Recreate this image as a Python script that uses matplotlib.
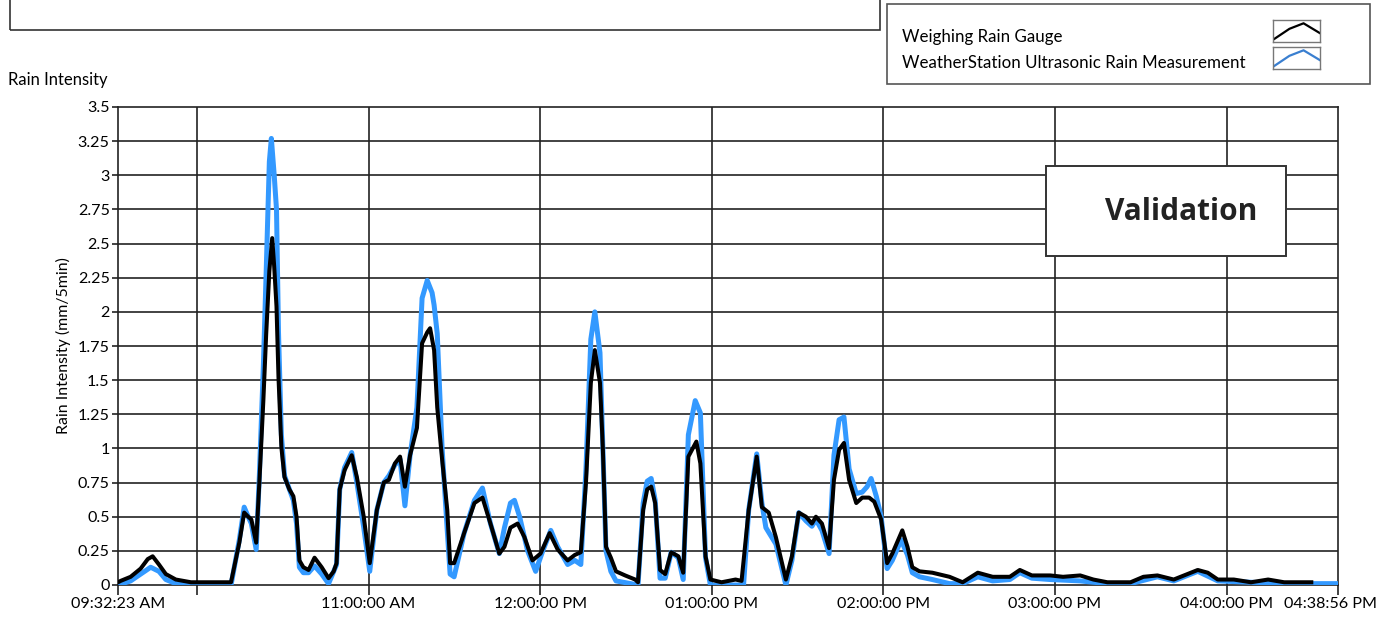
import matplotlib
matplotlib.use("Agg")
import matplotlib.pyplot as plt
from matplotlib.patches import Rectangle
from datetime import datetime, timedelta

plt.rcParams['font.family'] = ['Lato', 'DejaVu Sans']

# time axis: minutes after 09:00
start_min = 32 + 23 / 60      # 09:32:23 AM
end_min = 7 * 60 + 38 + 56 / 60  # 04:38:56 PM

# Weighing Rain Gauge (black)
gauge_t = [32.4, 33.3, 36.8, 40.3, 42.8, 44.5, 46.7, 49.1, 52.6, 57.9, 64.9, 71.9,
           74.8, 76.5, 77.9, 79.0, 80.7, 81.8, 83.2, 84.2, 85.3, 86.3, 87.0, 87.8,
           88.5, 89.5, 90.6, 92.3, 93.7, 94.8, 95.8, 97.2, 99.0, 101.1, 103.6, 106.0,
           107.8, 108.8, 109.9, 111.6, 114.1, 115.9, 118.3, 120.4, 122.9, 125.3, 127.1,
           129.2, 131.0, 132.7, 134.5, 136.9, 138.7, 140.5, 141.5, 142.9, 144.0, 145.7,
           147.5, 148.5, 149.9, 153.4, 157.0, 159.8, 162.6, 165.7, 167.5, 169.6, 172.1,
           174.5, 177.3, 180.1, 183.3, 186.1, 189.6, 192.1, 194.2, 196.0, 197.7, 199.1,
           200.9, 201.9, 203.0, 204.7, 206.5, 209.7, 213.2, 214.2, 216.0, 217.4, 218.8,
           220.2, 221.9, 223.7, 225.8, 228.3, 230.0, 231.8, 234.6, 236.0, 237.8, 239.5,
           243.4, 248.3, 250.4, 252.9, 255.7, 257.5, 259.9, 262.4, 265.9, 268.0, 270.4,
           272.9, 275.0, 276.4, 278.5, 281.0, 282.7, 284.5, 286.2, 288.0, 290.5, 292.6,
           295.0, 296.8, 299.2, 301.3, 303.1, 306.6, 308.4, 310.1, 312.6, 317.1, 323.1,
           327.7, 333.0, 338.2, 344.2, 347.7, 351.9, 358.3, 362.8, 368.8, 373.4, 378.3,
           386.4, 390.9, 395.8, 401.5, 409.9, 413.4, 416.9, 422.5, 428.5, 434.5, 440.1,
           449.6]
gauge_v = [0.02, 0.03, 0.06, 0.12, 0.19, 0.21, 0.15, 0.08, 0.04, 0.02, 0.02, 0.02,
           0.31, 0.53, 0.50, 0.48, 0.31, 0.75, 1.35, 1.84, 2.30, 2.54, 2.33, 2.04,
           1.52, 1.01, 0.79, 0.70, 0.65, 0.50, 0.18, 0.13, 0.11, 0.20, 0.13, 0.05,
           0.10, 0.16, 0.70, 0.84, 0.95, 0.79, 0.50, 0.16, 0.55, 0.75, 0.77,
           0.89, 0.94, 0.72, 0.95, 1.15, 1.77, 1.85, 1.88, 1.72, 1.30, 0.92,
           0.55, 0.16, 0.16, 0.38, 0.60, 0.64, 0.45, 0.23, 0.28, 0.42, 0.45,
           0.35, 0.18, 0.23, 0.38, 0.26, 0.18, 0.22, 0.24, 0.75, 1.48, 1.72,
           1.48, 1.00, 0.28, 0.20, 0.10, 0.07, 0.04, 0.02, 0.55, 0.70, 0.72,
           0.60, 0.11, 0.08, 0.24, 0.21, 0.09, 0.94, 1.05, 0.89, 0.21, 0.04,
           0.02, 0.04, 0.03, 0.55, 0.94, 0.57, 0.53, 0.35, 0.04, 0.21, 0.53,
           0.50, 0.45, 0.50, 0.45, 0.27, 0.77, 0.99, 1.04, 0.77, 0.60, 0.64,
           0.64, 0.61, 0.48, 0.16, 0.23, 0.40, 0.28, 0.13, 0.10, 0.09, 0.06,
           0.02, 0.09, 0.06, 0.06, 0.11, 0.07, 0.07, 0.06, 0.07, 0.04, 0.02,
           0.02, 0.06, 0.07, 0.04, 0.11, 0.09, 0.04, 0.04, 0.02, 0.04, 0.02,
           0.02]

# WeatherStation Ultrasonic Rain Measurement (blue)
ultra_t = [32.4, 36.8, 40.3, 43.8, 46.7, 49.1, 52.6, 57.9, 71.9, 74.8, 76.5, 77.9,
           79.0, 80.7, 81.8, 83.2, 84.2, 85.3, 86.0, 87.0, 87.8, 88.5, 89.5, 90.6,
           92.3, 93.7, 94.8, 95.8, 97.2, 99.0, 101.1, 103.6, 106.0, 108.8, 109.9,
           111.6, 114.1, 115.9, 118.3, 120.4, 122.9, 125.3, 127.1, 129.2, 131.0, 132.7,
           134.5, 136.9, 138.7, 140.5, 142.2, 142.9, 144.0, 145.7, 147.5, 148.5, 149.9,
           153.4, 157.0, 159.8, 162.6, 165.7, 167.5, 169.6, 171.0, 172.8, 175.6, 178.4,
           180.9, 183.7, 186.1, 189.6, 192.1, 194.2, 196.0, 197.7, 199.1, 200.9, 201.9,
           203.0, 204.7, 206.5, 214.2, 216.0, 217.4, 218.8, 220.2, 221.9, 223.7, 225.8,
           228.3, 230.0, 231.8, 234.2, 236.0, 237.8, 239.5, 251.1, 252.9, 255.7, 257.5,
           258.9, 262.4, 265.9, 268.0, 270.4, 272.9, 275.0, 276.4, 278.5, 281.0, 282.7,
           284.5, 286.2, 288.0, 290.5, 292.6, 294.3, 295.7, 297.5, 299.2, 301.3, 303.1,
           306.2, 308.4, 310.1, 312.6, 317.1, 323.1, 327.7, 333.0, 338.2, 344.2, 347.7,
           351.9, 358.3, 368.8, 378.3, 386.4, 395.8, 401.5, 409.9, 416.9, 428.5, 440.1,
           458.9]
ultra_v = [0.00, 0.03, 0.08, 0.13, 0.10, 0.04, 0.01, 0.00, 0.00, 0.33, 0.57, 0.50,
           0.45, 0.26, 0.80, 1.60, 2.30, 3.10, 3.27, 3.00, 2.75, 1.85, 1.10, 0.80,
           0.70, 0.62, 0.45, 0.13, 0.09, 0.09, 0.14, 0.08, 0.01, 0.15, 0.70,
           0.86, 0.97, 0.75, 0.42, 0.10, 0.55, 0.75, 0.80, 0.88, 0.92, 0.58,
           0.95, 1.30, 2.10, 2.23, 2.14, 2.05, 1.84, 1.00, 0.40, 0.08, 0.06,
           0.38, 0.62, 0.71, 0.45, 0.23, 0.42, 0.60, 0.62, 0.50, 0.25, 0.10,
           0.25, 0.40, 0.28, 0.15, 0.18, 0.15, 0.85, 1.80, 2.00, 1.70, 1.00,
           0.25, 0.10, 0.03, 0.00, 0.60, 0.76, 0.78, 0.62, 0.05, 0.05, 0.24,
           0.20, 0.04, 1.10, 1.35, 1.26, 0.20, 0.00, 0.00, 0.55, 0.96, 0.60,
           0.42, 0.30, 0.00, 0.18, 0.53, 0.47, 0.43, 0.48, 0.40, 0.23, 0.95,
           1.21, 1.23, 0.85, 0.67, 0.68, 0.72, 0.78, 0.65, 0.50, 0.12, 0.18,
           0.33, 0.22, 0.09, 0.06, 0.04, 0.01, 0.01, 0.06, 0.03, 0.04, 0.09,
           0.05, 0.04, 0.03, 0.01, 0.01, 0.06, 0.03, 0.10, 0.03, 0.02, 0.01,
           0.01]

hour_ticks = [60, 120, 180, 240, 300, 360, 420]
y_ticks = [i * 0.25 for i in range(15)]

W, H = 1380, 621
fig = plt.figure(figsize=(W / 100, H / 100), dpi=100)

def fx(px):
    return px / W

def fy(py):
    return 1 - py / H

ax = fig.add_axes([fx(118), fy(585), fx(1338) - fx(118), fy(107) - fy(585)])

ax.plot(ultra_t, ultra_v, color='#3399ff', lw=3.6, solid_joinstyle='round', zorder=3)
ax.plot(gauge_t, gauge_v, color='black', lw=2.9, solid_joinstyle='round', zorder=4)

ax.set_xlim(start_min, end_min)
ax.set_ylim(0, 3.5)

def clock(m):
    d = datetime(2000, 1, 1, 9, 0, 0) + timedelta(seconds=round(m * 60))
    return d.strftime('%I:%M:%S %p')

xt = [start_min] + hour_ticks + [end_min]
xl = [clock(start_min), ''] + [clock(m) for m in hour_ticks[1:]] + ['']
ax.set_xticks(xt)
ax.set_xticklabels(xl, fontsize=11.6)
ax.set_yticks(y_ticks)
ax.set_yticklabels(['%g' % v for v in y_ticks], fontsize=11.6)

# last label sits a little left of its tick so it stays inside the picture
ax.annotate(clock(end_min), xy=(end_min, 0), xycoords=('data', 'axes fraction'),
            xytext=(-8, -12.5), textcoords='offset pixels', ha='center', va='top',
            fontsize=11.6, annotation_clip=False)

for m in hour_ticks:
    ax.axvline(m, color='#222222', lw=1.2, zorder=1)
for v in y_ticks[1:-1]:
    ax.axhline(v, color='#222222', lw=1.2, zorder=1)

for s in ax.spines.values():
    s.set_color('#222222')
    s.set_linewidth(1.2)
ax.tick_params(axis='x', length=7, width=1.2, color='#222222', pad=2)
ax.tick_params(axis='y', length=4, width=1.2, color='#222222', pad=2)
ax.set_ylabel('Rain Intensity (mm/5min)', fontsize=11.4, labelpad=5)

fig.text(fx(8), fy(80), 'Rain Intensity', fontsize=12, va='center', ha='left')

# top box (cut off by the figure edge)
fig.patches.append(Rectangle((fx(10), fy(30)), fx(880) - fx(10), fy(-10) - fy(30),
                             transform=fig.transFigure, fill=False, ec='#333333', lw=1.2))

# legend box
fig.patches.append(Rectangle((fx(887), fy(84)), fx(1370) - fx(887), fy(4) - fy(84),
                             transform=fig.transFigure, fc='white', ec='#555555', lw=1.2,
                             zorder=5))
fig.text(fx(902), fy(37), 'Weighing Rain Gauge', fontsize=12.2, va='center', zorder=6)
fig.text(fx(902), fy(63), 'WeatherStation Ultrasonic Rain Measurement', fontsize=12.2,
         va='center', zorder=6)
for top, col in [(20, 'black'), (47, '#3a7fd0')]:
    lax = fig.add_axes([fx(1273), fy(top + 22), fx(1320) - fx(1273), fy(top) - fy(top + 22)])
    lax.set_zorder(7)
    lax.plot([0, 0.35, 0.65, 1], [0.1, 0.6, 0.85, 0.4], color=col, lw=1.6)
    lax.set_xlim(0, 1)
    lax.set_ylim(0, 1)
    lax.set_xticks([])
    lax.set_yticks([])
    for s in lax.spines.values():
        s.set_color('#777777')
        s.set_linewidth(1)

# Validation box
fig.patches.append(Rectangle((fx(1046), fy(256)), fx(1286) - fx(1046), fy(166) - fy(256),
                             transform=fig.transFigure, fc='white', ec='#333333', lw=1.4,
                             zorder=5))
fig.text(fx(1257), fy(212), 'Validation', fontsize=21.5, fontweight='bold', ha='right',
         va='center', family=['Open Sans', 'DejaVu Sans'], zorder=6, color='#222222')

fig.savefig('out.png', dpi=100)
